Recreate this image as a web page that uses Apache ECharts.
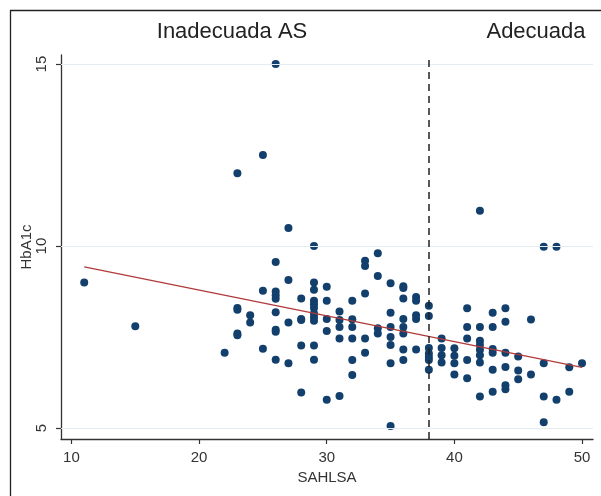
<!DOCTYPE html>
<html>
<head>
<meta charset="utf-8">
<script src="https://cdn.jsdelivr.net/npm/echarts@6/dist/echarts.min.js"></script>
<style>
  html, body { margin: 0; padding: 0; background: #fff; }
  #chart { width: 601px; height: 496px; }
</style>
</head>
<body>
<div id="chart"></div>
<script>
// SAHLSA score (x) and HbA1c (y) for each patient
const sahlsa = [
  11, 15, 22,
  23, 23, 23, 23, 23,
  24, 24,
  25, 25, 25,
  26, 26, 26, 26, 26, 26, 26, 26, 26,
  27, 27, 27, 27,
  28, 28, 28, 28, 28,
  29, 29, 29, 29, 29, 29, 29, 29, 29, 29, 29,
  30, 30, 30, 30, 30,
  31, 31, 31, 31, 31,
  32, 32, 32, 32, 32, 32,
  33, 33, 33, 33, 33,
  34, 34, 34, 34,
  35, 35, 35, 35, 35, 35, 35,
  36, 36, 36, 36, 36, 36, 36, 36,
  37, 37, 37, 37, 37,
  38, 38, 38, 38, 38, 38, 38,
  39, 39, 39, 39,
  40, 40, 40, 40,
  41, 41, 41, 41, 41,
  42, 42, 42, 42, 42, 42, 42, 42,
  43, 43, 43, 43, 43, 43,
  44, 44, 44, 44, 44, 44,
  45, 45, 45,
  46, 46,
  47, 47, 47, 47,
  48, 48,
  49, 49,
  50
];
const hba1c = [
  9.0, 7.8, 7.07,
  12.0, 8.3, 8.25, 7.6, 7.55,
  8.1, 7.9,
  12.5, 8.77, 7.18,
  15.0, 9.56, 8.75, 8.65, 8.55, 8.18, 7.7, 7.65, 6.88,
  10.5, 9.07, 7.9, 6.78,
  8.56, 8.0, 7.97, 7.27, 5.98,
  10.0, 9.0, 8.8, 8.5, 8.4, 8.3, 8.15, 8.05, 7.95, 7.27, 6.88,
  8.88, 8.5, 8.0, 7.67, 5.78,
  8.2, 7.97, 7.78, 7.46, 5.88,
  8.5, 7.99, 7.78, 7.46, 6.87, 6.46,
  9.6, 9.45, 8.7, 7.46, 7.07,
  9.8, 9.18, 7.74, 7.6,
  8.98, 8.17, 7.78, 7.5, 7.28, 6.78, 5.06,
  8.9, 8.85, 8.56, 8.0, 7.78, 7.6, 7.16, 6.87,
  8.6, 8.5, 8.1, 8.0, 7.16,
  8.36, 8.08, 7.2, 7.05, 6.95, 6.87, 6.6,
  7.46, 7.2, 7.0, 6.8,
  7.19, 6.99, 6.78, 6.47,
  8.29, 7.78, 7.46, 6.87, 6.37,
  10.97, 7.78, 7.4, 7.28, 7.15, 7.0, 6.8, 5.87,
  8.17, 7.78, 7.17, 7.07, 6.6, 6.0,
  8.29, 7.92, 7.07, 6.68, 6.18, 6.07,
  6.97, 6.58, 6.34,
  7.98, 6.47,
  9.98, 6.78, 5.87, 5.16,
  9.98, 5.78,
  6.67, 6.0,
  6.78
];

// linear fit end points
const fitX = [11, 50];
const fitY = [9.43, 6.67];

// cut-off between inadequate and adequate
const cutoff = 38;

const xTicks = [10, 20, 30, 40, 50];
const yTicks = [5, 10, 15];

const points = sahlsa.map((x, i) => [x, hba1c[i]]);
const fitData = fitX.map((x, i) => [x, fitY[i]]);

const axisColor = "#333";
const textColor = "#333";

const chart = echarts.init(document.getElementById("chart"));

const headerText = (text, x) => ({
  type: "text",
  x: x,
  y: 32,
  style: {
    text: text,
    fontSize: 22,
    fill: "#222",
    fontFamily: "Liberation Sans",
    textAlign: "center",
    textVerticalAlign: "middle",
  },
});

const options = {
  animation: false,
  grid: { left: 61, right: 8, top: 55, bottom: 57 },
  xAxis: {
    type: "value",
    min: 9.18,
    max: 50.86,
    name: "SAHLSA",
    nameLocation: "middle",
    nameGap: 26,
    nameTextStyle: { fontSize: 15, color: textColor, fontFamily: "Liberation Sans" },
    axisLine: { onZero: false, lineStyle: { color: axisColor, width: 1.3 } },
    axisTick: { customValues: xTicks, length: 5, lineStyle: { color: axisColor, width: 1.2 } },
    axisLabel: { customValues: xTicks, fontSize: 15, color: textColor, margin: 11, fontFamily: "Liberation Sans" },
    splitLine: { show: false },
  },
  yAxis: {
    type: "value",
    min: 4.7,
    max: 15.25,
    name: "HbA1c",
    nameLocation: "middle",
    nameGap: 27,
    nameMoveOverlap: false,
    nameTextStyle: { fontSize: 15, color: textColor, fontFamily: "Liberation Sans" },
    axisLine: { onZero: false, lineStyle: { color: axisColor, width: 1.3 } },
    axisTick: { customValues: yTicks, length: 5, lineStyle: { color: axisColor, width: 1.2 } },
    axisLabel: { customValues: yTicks, rotate: 90, fontSize: 15, color: textColor, margin: 12, fontFamily: "Liberation Sans" },
    splitLine: { show: false },
  },
  graphic: [
    {
      type: "rect",
      silent: true,
      shape: { x: 10.5, y: 10.5, width: 620, height: 520 },
      style: { fill: "none", stroke: "#222", lineWidth: 1.3 },
    },
    headerText("Inadecuada AS", 232),
    headerText("Adecuada", 536),
  ],
  series: [
    {
      // faint grid lines
      type: "line",
      data: [],
      z: 1,
      markLine: {
        silent: true,
        symbol: ["none", "none"],
        label: { show: false },
        lineStyle: { color: "#e3edf1", width: 1, type: "solid" },
        data: yTicks.map((v) => ({ yAxis: v })),
      },
    },
    {
      type: "scatter",
      data: points,
      symbol: "circle",
      symbolSize: 8,
      itemStyle: { color: "#123f6c", opacity: 1 },
      z: 2,
      markLine: {
        silent: true,
        symbol: ["none", "none"],
        label: { show: false },
        lineStyle: { color: "#222", width: 1.5, type: [7, 5] },
        data: [{ xAxis: cutoff }],
      },
    },
    {
      type: "line",
      data: fitData,
      symbol: "none",
      lineStyle: { color: "#b03a3a", width: 1.3 },
      z: 3,
    },
  ],
};

chart.setOption(options);
</script>
</body>
</html>
